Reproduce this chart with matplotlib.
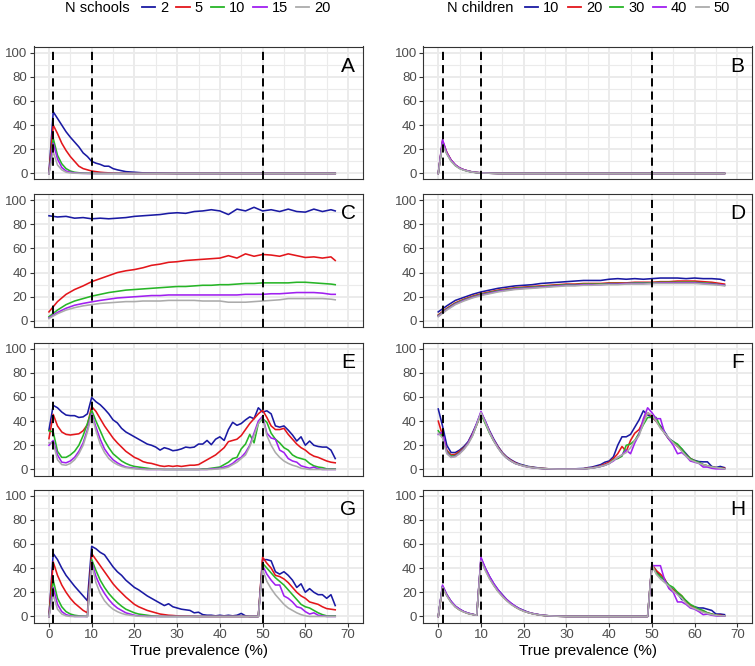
import matplotlib
matplotlib.use('Agg')
import matplotlib.pyplot as plt
from matplotlib.lines import Line2D
from matplotlib.ticker import MultipleLocator

plt.rcParams['font.family'] = ['Liberation Sans', 'DejaVu Sans']

# x values (true prevalence, %)
prev_ab = [0, 1, 2, 3, 4, 5, 6, 7, 8, 9, 10, 11, 12, 13, 14, 15, 16, 18, 20, 22, 25, 30, 40, 50, 60, 67]
prev_cd = [0, 2, 4, 6, 8, 10, 12, 14, 16, 18, 20, 22, 24, 26, 28, 30, 32, 34, 36, 38,
           40, 42, 44, 46, 48, 50, 52, 54, 56, 58, 60, 62, 64, 66, 67]
prev_full = list(range(68))
thresholds = [1, 10, 50]

colors = ['#1A1AA3', '#E3161B', '#27B527', '#A020F0', '#ABABAB']
school_labels = ['2', '5', '10', '15', '20']
children_labels = ['10', '20', '30', '40', '50']

# ---- panel A (N schools) ----
a_2 = [0, 51, 45.5, 40, 34.5, 30, 26, 22, 17, 14, 10, 8.5, 7.5, 6, 6, 4, 3, 1.5, 1, 0.5, 0.3, 0, 0, 0, 0, 0]
a_5 = [0, 40, 33, 25, 19, 14, 10, 6, 4, 3, 2, 1.5, 1, 0.7, 0.5, 0.3, 0.2, 0.1, 0, 0, 0, 0, 0, 0, 0, 0]
a_10 = [0, 29, 15, 8, 4, 2, 1, 0.6, 0.3, 0.2, 0.1, 0, 0, 0, 0, 0, 0, 0, 0, 0, 0, 0, 0, 0, 0, 0]
a_15 = [0, 25, 12, 5, 2, 1, 0.5, 0.2, 0.1, 0, 0, 0, 0, 0, 0, 0, 0, 0, 0, 0, 0, 0, 0, 0, 0, 0]
a_20 = [0, 18, 7, 3, 1, 0.4, 0.2, 0.1, 0, 0, 0, 0, 0, 0, 0, 0, 0, 0, 0, 0, 0, 0, 0, 0, 0, 0]

# ---- panel B (N children) ----
b_10 = [0, 26, 17, 11, 7, 4.5, 3, 2, 1.2, 0.8, 0.5, 0.3, 0.2, 0.1, 0, 0, 0, 0, 0, 0, 0, 0, 0, 0, 0, 0]
b_20 = [0, 27, 17.5, 11, 7, 4.5, 3, 2, 1.2, 0.8, 0.5, 0.3, 0.2, 0.1, 0, 0, 0, 0, 0, 0, 0, 0, 0, 0, 0, 0]
b_30 = [0, 26, 16.5, 10.5, 6.5, 4.2, 2.8, 1.8, 1.1, 0.7, 0.4, 0.3, 0.2, 0.1, 0, 0, 0, 0, 0, 0, 0, 0, 0, 0, 0, 0]
b_40 = [0, 28, 17, 11, 7, 4.5, 3, 2, 1.2, 0.8, 0.5, 0.3, 0.2, 0.1, 0, 0, 0, 0, 0, 0, 0, 0, 0, 0, 0, 0]
b_50 = [0, 24, 16, 10, 6.5, 4, 2.7, 1.8, 1.1, 0.7, 0.4, 0.3, 0.2, 0.1, 0, 0, 0, 0, 0, 0, 0, 0, 0, 0, 0, 0]

# ---- panel C ----
c_2 = [87, 86, 86.5, 85, 85.5, 84.5, 85, 84.5, 85, 85.5, 86.5, 87, 87.5, 88, 89, 89.5, 89, 90.5, 91, 92,
       91, 88, 92.5, 91, 94, 91, 92, 90.5, 92.5, 90.5, 90, 92.5, 90.5, 92, 91]
c_5 = [7.5, 16, 22, 26, 29, 32.5, 35, 37.5, 40, 41.5, 42.5, 44, 46, 47, 48.5, 49, 50, 50.5, 51, 51.5,
       52, 54, 52, 55.5, 53.5, 55, 54.5, 53.5, 55.5, 54, 52.5, 53, 52, 53, 50]
c_10 = [3.5, 9, 13.5, 16.5, 18.5, 20.5, 22, 23.5, 24.5, 25.5, 26, 26.5, 27, 27.5, 28, 28.5, 28.5, 29, 29.5, 29.5,
        30, 30, 30.5, 31, 31, 31.5, 31.5, 31.5, 31.5, 32, 32, 31.5, 31, 30.5, 30]
c_15 = [2.5, 7, 10.5, 13, 14.5, 15.8, 17, 18, 19, 19.5, 20, 20.5, 21, 21, 21.5, 21.5, 21.5, 21.5, 21.5, 21.5,
        21.5, 21.5, 21.5, 22, 22, 22, 22.5, 22.5, 23, 23.5, 23.5, 23.5, 23, 22, 22]
c_20 = [2, 6, 9, 11, 12.5, 13.5, 14.5, 15, 15.5, 16, 16, 16.5, 16.5, 16.5, 17, 17, 17, 17, 16.5, 16.5,
        16.5, 15.5, 15.5, 15.5, 16, 16.5, 17, 17.5, 18.5, 18.5, 18.5, 18.5, 18.5, 18, 17.5]

# ---- panel D ----
d_10 = [7.5, 12.5, 17, 19.5, 22, 24, 25.5, 27, 28, 29, 29.5, 30, 31, 31.5, 32, 32.5, 33, 33.5, 33.5, 33.5,
        34.5, 35, 34.5, 35, 34.5, 35, 35.5, 35.5, 35.5, 35, 35.5, 35, 35, 34.5, 33.5]
d_20 = [5, 10.5, 15, 18, 20.5, 22.5, 24, 25.5, 26.5, 27.5, 28, 28.5, 29, 29.5, 30, 30.5, 30.5, 31, 31, 31,
        31.5, 31.5, 31.5, 32, 32, 32, 32.5, 32.5, 33, 33, 33, 32.5, 32, 31, 30.5]
d_30 = [4.5, 10, 14.5, 17.5, 20, 22, 23.5, 25, 26, 27, 27.5, 28, 28.5, 29, 29.5, 30, 30, 30.5, 30.5, 30.5,
        31, 31, 31, 31.5, 31.5, 31.5, 32, 32, 32, 32, 32, 31.5, 31, 30, 29.5]
d_40 = [4, 9.5, 14, 17, 19.5, 21.5, 23, 24.5, 25.5, 26.5, 27, 27.5, 28, 28.5, 29, 29.5, 29.5, 30, 30, 30,
        30.5, 30.5, 31, 31, 31, 31, 31.5, 31.5, 31.5, 31.5, 31.5, 31, 30.5, 30, 29.5]
d_50 = [3.5, 9, 13.5, 16.5, 19, 21, 22.5, 24, 25, 26, 26.5, 27, 27.5, 28, 28.5, 29, 29, 29.5, 29.5, 30,
        30, 30, 30.5, 30.5, 30.5, 31, 31, 31, 31, 31, 31, 30.5, 30, 29.5, 29]

# ---- panel E ----
e_2 = [32.5, 53, 51, 47.5, 45, 44.5, 44.5, 43, 43.5, 46,
       59.5, 56, 53.5, 50, 46, 41, 38.5, 34, 31, 29,
       27, 25, 23, 21, 20, 18.5, 16, 18, 17, 15.5,
       16, 17, 18.5, 18, 18.5, 21, 21, 24, 20.5, 25,
       27, 24, 33, 39, 36.5, 38, 41, 43.5, 42, 51,
       47.5, 48.5, 46, 36, 35, 36, 32.5, 28.5, 23.5, 27,
       20, 23.5, 20, 19, 18.5, 18.5, 16, 9]
e_5 = [25.5, 45.5, 36, 31, 29, 28.5, 29, 29.5, 32, 37,
       52, 48, 42, 36, 31, 26, 22, 18.5, 15, 12.5,
       10, 8.5, 6.5, 5.5, 5, 4, 3, 2.5, 3, 2.5,
       3, 2.5, 3, 3.5, 3.5, 4, 6, 8, 10, 12,
       15, 18, 23, 24, 25, 28, 33, 38, 42, 46,
       49, 43, 36, 33, 33, 34, 29, 25, 21, 18,
       16, 13, 11, 10, 8.5, 7, 6, 5.5]
e_10 = [32, 31, 15, 10, 10, 12, 15, 20, 28, 38,
        49, 40, 32, 24, 18, 13, 10, 7, 5, 3.5,
        2.5, 2, 1.5, 1, 0.5, 0.3, 0.2, 0, 0, 0,
        0, 0, 0, 0, 0, 0, 0.5, 0.5, 1, 1.5,
        2, 4, 6, 9, 10, 17, 21, 29, 22, 38,
        42, 39, 30, 25, 22, 18, 16, 12, 10, 9,
        8, 5, 3, 2, 1.5, 0.5, 0.5, 0.5]
e_15 = [20, 24, 12, 6, 5.5, 7, 10, 15, 22, 33,
        46, 35, 25, 17, 12, 8, 5.5, 3.5, 2, 1.5,
        1, 0.6, 0.3, 0, 0, 0, 0, 0, 0, 0,
        0, 0, 0, 0, 0, 0, 0, 0, 0.5, 0.7,
        1, 2, 3, 5, 8, 10, 14, 20, 30, 40,
        44, 30, 26, 25, 16, 14, 9, 7, 6, 3,
        2, 1, 2, 0.5, 0, 0, 0, 0]
e_20 = [22, 22, 8, 4, 3.5, 5, 8, 13, 20, 31,
        45, 32, 21, 14, 9, 6, 4, 2.5, 1.5, 1,
        0.5, 0.3, 0, 0, 0, 0, 0, 0, 0, 0,
        0, 0, 0, 0, 0, 0, 0, 0, 0, 0.3,
        0.5, 1, 2, 4, 6, 9, 12, 19, 28, 38,
        43, 28, 20, 14, 10, 7, 5, 3.5, 2.5, 1,
        0.5, 0, 0, 0, 0, 0, 0, 0]

# ---- panel F ----
f_10 = [50, 36, 20, 14, 14, 16, 19, 23, 30, 38,
        47, 40, 32, 25, 19, 14, 10.5, 8, 6, 4.5,
        3.5, 2.5, 2, 1.5, 1, 0.7, 0.5, 0.4, 0.3, 0.3,
        0.3, 0.5, 0.5, 0.7, 0.8, 1.5, 2, 3, 4, 6,
        7, 10.5, 20, 27, 27, 29, 35, 41, 48.5, 45,
        43.5, 40, 36, 31, 25.5, 23, 20, 17, 13, 9,
        7.5, 6.5, 6.3, 6.3, 2.5, 1.6, 2.5, 1.5]
f_20 = [40, 28, 16, 12, 12.5, 15, 18, 22, 29, 37,
        46, 39, 31, 24, 18.5, 13.5, 10, 7.5, 5.5, 4,
        3, 2.2, 1.7, 1.3, 1, 0.7, 0.5, 0.4, 0.3, 0.3,
        0.3, 0.3, 0.4, 0.5, 0.6, 1, 1.5, 2, 3, 4.5,
        6, 9, 13, 19, 15, 24, 30, 33, 40, 47,
        44, 40, 35, 30, 25, 22, 19, 16, 12, 9,
        7, 5.5, 4, 3, 2, 1.5, 1, 1]
f_30 = [32, 27, 15, 11, 11.5, 14, 17.5, 22, 28, 37,
        46, 38, 30, 23.5, 18, 13, 9.5, 7, 5, 4,
        3, 2.2, 1.6, 1.2, 0.9, 0.6, 0.5, 0.4, 0.3, 0.3,
        0.3, 0.3, 0.3, 0.4, 0.5, 0.8, 1.2, 1.8, 2.5, 3.5,
        5, 8, 9, 11, 20, 21, 24, 30, 37, 43,
        43, 43, 35, 30, 25, 23, 21, 17, 12, 9,
        7, 6, 4, 3, 2, 1.5, 1, 0.5]
f_40 = [29, 31, 14, 10, 11, 13.5, 17, 22, 28.5, 38,
        48, 40, 31, 24, 18, 13, 9.5, 7, 5, 3.8,
        2.8, 2, 1.5, 1.1, 0.8, 0.6, 0.5, 0.4, 0.3, 0.3,
        0.3, 0.3, 0.3, 0.4, 0.5, 0.8, 1.2, 1.8, 2.5, 3.5,
        5, 7, 10, 12, 16, 13, 22, 29, 42, 51,
        47, 42, 42, 30, 25, 20, 13, 14, 11, 7,
        6, 5, 2, 2, 1, 0.5, 0.5, 0.5]
f_50 = [30, 26, 13, 10, 10.5, 13, 16.5, 21, 27.5, 37,
        47, 39, 30.5, 23.5, 17.5, 13, 9.5, 7, 5, 3.7,
        2.8, 2, 1.5, 1.1, 0.8, 0.6, 0.5, 0.4, 0.3, 0.3,
        0.3, 0.3, 0.3, 0.4, 0.5, 0.8, 1.2, 1.8, 2.5, 3.5,
        5, 7.5, 10, 12, 14, 18, 24, 28, 38, 47,
        45, 40, 34, 30, 26, 22, 19, 15, 11, 8,
        6.5, 5, 4, 3, 2, 1.5, 1, 0.5]

# ---- panel G ----
g_2 = [0, 52, 47, 40, 34, 29.5, 25, 21, 17, 13,
       58, 56, 53, 51, 46, 41, 37, 34, 30, 27,
       24, 22, 19.5, 17, 15, 13, 11, 9, 10.5, 8,
       7, 6, 5.5, 5, 3, 3.5, 1.5, 1, 1, 0.5,
       1, 0.5, 1, 0.5, 1, 2.5, 0.5, 0, 0, 0,
       47, 47, 46, 37, 35, 37, 34, 30, 24, 27,
       20, 23, 20, 18, 18, 15, 18, 9]
g_5 = [0, 45, 34, 26, 20, 15, 11, 8, 5, 3,
       52, 47, 42, 37, 32, 27, 23, 19.5, 16, 13,
       10, 8, 6.5, 5, 4, 3, 2, 1.5, 1, 0.8,
       0.5, 0.4, 0.3, 0.2, 0.1, 0, 0, 0, 0, 0,
       0, 0, 0, 0, 0, 0, 0, 0, 0, 0,
       49, 44, 40, 34, 33, 31, 28, 24, 20, 17,
       15, 12, 11, 10, 8, 6.5, 6, 5.5]
g_10 = [0, 30, 15, 8, 4, 2, 1, 0.5, 0.3, 0,
        47, 38, 30, 24, 19, 15, 11.5, 8.5, 6, 4.5,
        3, 2, 1.5, 1, 0.5, 0.3, 0, 0, 0, 0,
        0, 0, 0, 0, 0, 0, 0, 0, 0, 0,
        0, 0, 0, 0, 0, 0, 0, 0, 0, 0,
        44, 40, 36, 32, 29, 26, 22, 18, 14, 10,
        8, 7, 5, 3, 1.5, 0.5, 0.5, 0.5]
g_15 = [0, 24, 10, 4, 1.5, 0.5, 0, 0, 0, 0,
        45, 33, 25, 19, 14, 10, 7, 5, 3, 2,
        1, 0.5, 0.3, 0, 0, 0, 0, 0, 0, 0,
        0, 0, 0, 0, 0, 0, 0, 0, 0, 0,
        0, 0, 0, 0, 0, 0, 0, 0, 0, 0,
        42, 35, 30, 26, 26, 17, 15, 12, 8, 7,
        4, 2, 3, 1, 0.5, 0, 0, 0]
g_20 = [0, 18, 6, 2, 0.5, 0, 0, 0, 0, 0,
        43, 28, 19, 13, 9, 6, 4, 2.5, 1.5, 1,
        0.5, 0.2, 0, 0, 0, 0, 0, 0, 0, 0,
        0, 0, 0, 0, 0, 0, 0, 0, 0, 0,
        0, 0, 0, 0, 0, 0, 0, 0, 0, 0,
        39, 29, 23, 18, 14, 10, 7, 5, 3, 1.5,
        0.5, 0, 0, 0, 0, 0, 0, 0]

# ---- panel H ----
h_10 = [0, 25, 18, 12.5, 8.5, 6, 4, 2.7, 1.8, 1,
        48, 40, 33, 27, 22, 18, 14, 11, 8.5, 6.5,
        5, 3.5, 2.5, 1.8, 1.2, 0.8, 0.5, 0.3, 0.2, 0.1,
        0, 0, 0, 0, 0, 0, 0, 0, 0, 0,
        0, 0, 0, 0, 0, 0, 0, 0, 0, 0,
        43, 38, 33, 30, 25, 22, 19, 14, 13, 9,
        8, 7, 7, 6, 5, 2, 2, 1.5]
h_20 = [0, 24, 17.5, 12, 8, 5.5, 3.8, 2.5, 1.7, 1,
        47, 39, 32, 26, 21, 17, 13.5, 10.5, 8, 6,
        4.5, 3.3, 2.4, 1.7, 1.1, 0.7, 0.5, 0.3, 0.2, 0.1,
        0, 0, 0, 0, 0, 0, 0, 0, 0, 0,
        0, 0, 0, 0, 0, 0, 0, 0, 0, 0,
        43, 38, 35, 31, 24, 22, 20, 17, 12, 9,
        7, 5, 4, 3, 2, 1, 1, 0.5]
h_30 = [0, 25, 17.5, 12, 8, 5.5, 3.8, 2.5, 1.7, 1,
        47, 39, 32, 26, 21, 17, 13.5, 10.5, 8, 6,
        4.5, 3.3, 2.4, 1.7, 1.1, 0.7, 0.5, 0.3, 0.2, 0.1,
        0, 0, 0, 0, 0, 0, 0, 0, 0, 0,
        0, 0, 0, 0, 0, 0, 0, 0, 0, 0,
        42, 36, 33, 30, 26, 24, 20, 17, 13, 10,
        8, 6, 5, 3, 2, 1, 0.5, 0.5]
h_40 = [0, 26, 18, 12.5, 8.5, 6, 4, 2.7, 1.8, 1,
        49, 40, 33, 27, 22, 17.5, 14, 11, 8.5, 6.3,
        4.7, 3.4, 2.5, 1.8, 1.2, 0.8, 0.5, 0.3, 0.2, 0.1,
        0, 0, 0, 0, 0, 0, 0, 0, 0, 0,
        0, 0, 0, 0, 0, 0, 0, 0, 0, 0,
        42, 42, 42, 30, 23, 20, 12, 12, 10, 7,
        6, 4, 1.5, 2, 1, 0.5, 0.3, 0.3]
h_50 = [0, 24, 17, 11.5, 7.8, 5.3, 3.6, 2.4, 1.6, 1,
        46, 38, 31, 25.5, 20.5, 16.5, 13, 10, 7.8, 5.8,
        4.3, 3.2, 2.3, 1.6, 1.1, 0.7, 0.5, 0.3, 0.2, 0.1,
        0, 0, 0, 0, 0, 0, 0, 0, 0, 0,
        0, 0, 0, 0, 0, 0, 0, 0, 0, 0,
        43, 35, 31, 28, 25, 21, 18, 15, 11, 8,
        6.5, 5, 3.5, 2.5, 1.5, 1, 0.5, 0.5]

left_panels = [('A', prev_ab, [a_2, a_5, a_10, a_15, a_20]),
               ('C', prev_cd, [c_2, c_5, c_10, c_15, c_20]),
               ('E', prev_full, [e_2, e_5, e_10, e_15, e_20]),
               ('G', prev_full, [g_2, g_5, g_10, g_15, g_20])]
right_panels = [('B', prev_ab, [b_10, b_20, b_30, b_40, b_50]),
                ('D', prev_cd, [d_10, d_20, d_30, d_40, d_50]),
                ('F', prev_full, [f_10, f_20, f_30, f_40, f_50]),
                ('H', prev_full, [h_10, h_20, h_30, h_40, h_50])]

W, H = 755, 666
fig = plt.figure(figsize=(W / 100, H / 100), dpi=100)

col_left = [34, 423.3]
col_width = 329
row_tops = [46.5, 194, 342.5, 489.5]
row_height = 133


def draw_panel(ax, xs, series, letter, bottom_row):
    ax.set_xlim(-3.5, 73.5)
    ax.set_ylim(-5, 105)
    ax.xaxis.set_major_locator(MultipleLocator(10))
    ax.xaxis.set_minor_locator(MultipleLocator(5))
    ax.yaxis.set_major_locator(MultipleLocator(20))
    ax.yaxis.set_minor_locator(MultipleLocator(10))
    ax.grid(which='major', color='#EBEBEB', lw=1.4)
    ax.grid(which='minor', color='#EBEBEB', lw=0.8)
    ax.set_axisbelow(True)
    for ys, c in zip(series, colors):
        ax.plot(xs, ys, color=c, lw=1.15, solid_joinstyle='round')
    for v in thresholds:
        ax.axvline(v, color='black', ls=(0, (4.2, 2.6)), lw=1.4, zorder=5)
    ax.text(0.955, 0.85, letter, transform=ax.transAxes, fontsize=15,
            ha='center', va='center')
    for s in ax.spines.values():
        s.set_color('#333333')
        s.set_linewidth(0.8)
    ax.tick_params(which='major', length=2.7, width=0.8, color='#333333',
                   labelcolor='#4D4D4D', labelsize=9.5, pad=2)
    ax.tick_params(which='minor', length=0)
    if bottom_row:
        ax.set_xlabel('True prevalence (%)', fontsize=11, labelpad=2.5)
    else:
        ax.tick_params(axis='x', which='both', bottom=False, labelbottom=False)


for left, panels in zip(col_left, [left_panels, right_panels]):
    for i, (letter, xs, series) in enumerate(panels):
        top = row_tops[i]
        ax = fig.add_axes([left / W, 1 - (top + row_height) / H, col_width / W, row_height / H])
        draw_panel(ax, xs, series, letter, i == len(panels) - 1)

# legends on top of each column
for title, labels, title_right in [('N schools', school_labels, 130),
                                   ('N children', children_labels, 513)]:
    fig.text(title_right / W, 1 - 8 / H, title, fontsize=10.5, ha='right', va='center')
    handles = [Line2D([], [], color=c, lw=1.3) for c in colors]
    fig.legend(handles, labels, ncol=5, frameon=False, fontsize=10.5,
               loc='center left', bbox_to_anchor=((title_right + 12) / W, 1 - 8 / H),
               handlelength=0.9, handletextpad=0.35, columnspacing=0.55,
               borderpad=0, borderaxespad=0)

fig.savefig('out.png', dpi=100)
